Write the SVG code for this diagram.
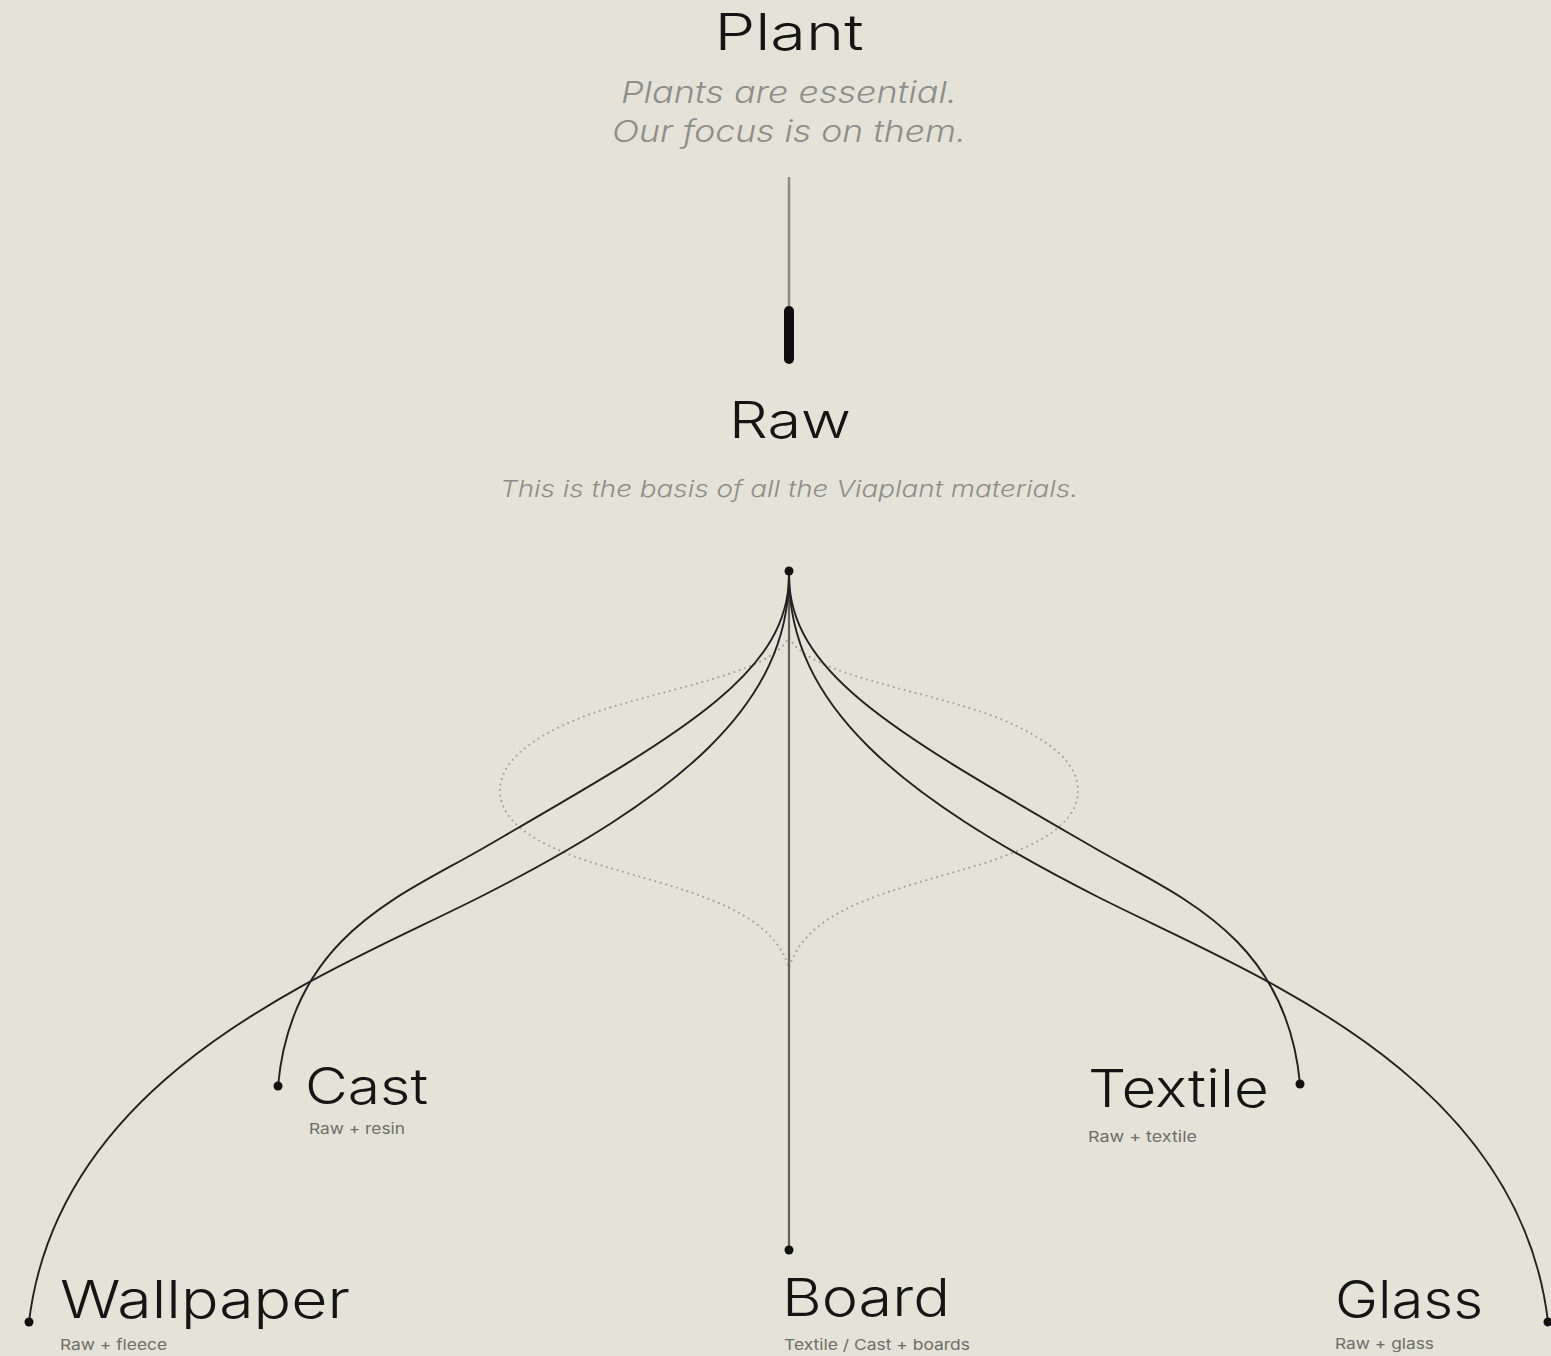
<svg xmlns="http://www.w3.org/2000/svg" width="1551" height="1356" viewBox="0 0 1551 1356">
<style>
.bg{fill:#e5e3d7}
.title{font-family:Inter,"Liberation Sans",sans-serif;font-weight:300;fill:#151515}
.sub{font-family:Inter,"Liberation Sans",sans-serif;font-weight:300;font-style:italic;fill:#8e8e8a}
.small{font-family:Inter,"Liberation Sans",sans-serif;font-weight:400;fill:#6e6e6a;font-size:15px}
.curve{fill:none;stroke:#222;stroke-width:1.9}
.dot{fill:#111}
</style>
<rect class="bg" x="0" y="0" width="1551" height="1356"/>

<g id="outline">
<path d="M789,636 C775,675 650,690 580,718 C525,740 500,765 500,790 C500,818 525,840 590,862 C680,890 770,905 789,968 C808,905 898,890 988,862 C1053,840 1078,818 1078,790 C1078,765 1053,740 998,718 C928,690 803,675 789,636 Z" fill="none" stroke="#a3a29b" stroke-width="2" stroke-dasharray="0.1 5.5" stroke-linecap="round"/>
</g>

<g id="connectors">
<line x1="789" y1="177" x2="789" y2="308" stroke="#8a8a86" stroke-width="2.5"/>
<line x1="789" y1="311" x2="789" y2="359" stroke="#0d0d0d" stroke-width="10" stroke-linecap="round"/>
<line x1="789" y1="575" x2="789" y2="1250" stroke="#5f5f5c" stroke-width="2.2"/>
<path class="curve" d="M789,575 C789,675 680,734 480,850 C400,896 291.5,937 278,1086"/>
<path class="curve" d="M789,575 C789,675 898,734 1098,850 C1178,896 1286.5,937 1300,1084"/>
<path class="curve" d="M789,575 C789,705 680,795.6 480,897 C330,973 59,1072 29,1322"/>
<path class="curve" d="M789,575 C789,705 898,795.6 1098,897 C1248,973 1519,1072 1548,1322"/>
<circle class="dot" cx="789" cy="571" r="4.5"/>
<circle class="dot" cx="278" cy="1086" r="4.5"/>
<circle class="dot" cx="1300" cy="1084" r="4.5"/>
<circle class="dot" cx="29" cy="1322" r="4.5"/>
<circle class="dot" cx="1548" cy="1322" r="4.5"/>
<circle class="dot" cx="789" cy="1250" r="4.5"/>
</g>

<g id="node-plant">
<text class="title" x="789" y="50" font-size="50" text-anchor="middle" textLength="149" lengthAdjust="spacingAndGlyphs">Plant</text>
<text class="sub" x="789" y="103" font-size="30" text-anchor="middle" textLength="336" lengthAdjust="spacingAndGlyphs">Plants are essential.</text>
<text class="sub" x="789" y="142" font-size="30" text-anchor="middle" textLength="354" lengthAdjust="spacingAndGlyphs">Our focus is on them.</text>
</g>

<g id="node-raw">
<text class="title" x="790" y="438" font-size="50" text-anchor="middle" textLength="122" lengthAdjust="spacingAndGlyphs">Raw</text>
<text class="sub" x="789" y="497" font-size="23" text-anchor="middle" textLength="578" lengthAdjust="spacingAndGlyphs">This is the basis of all the Viaplant materials.</text>
</g>

<g id="node-cast">
<text class="title" x="305" y="1104" font-size="50" textLength="123" lengthAdjust="spacingAndGlyphs">Cast</text>
<text class="small" x="309" y="1134" textLength="96" lengthAdjust="spacingAndGlyphs">Raw + resin</text>
</g>

<g id="node-textile">
<text class="title" x="1088" y="1107" font-size="52" textLength="181" lengthAdjust="spacingAndGlyphs">Textile</text>
<text class="small" x="1088" y="1142" textLength="109" lengthAdjust="spacingAndGlyphs">Raw + textile</text>
</g>

<g id="node-wallpaper">
<text class="title" x="60" y="1318" font-size="52" textLength="290" lengthAdjust="spacingAndGlyphs">Wallpaper</text>
<text class="small" x="60" y="1350" textLength="107" lengthAdjust="spacingAndGlyphs">Raw + fleece</text>
</g>

<g id="node-board">
<text class="title" x="782" y="1316" font-size="52" textLength="168" lengthAdjust="spacingAndGlyphs">Board</text>
<text class="small" x="784" y="1350" textLength="186" lengthAdjust="spacingAndGlyphs">Textile / Cast + boards</text>
</g>

<g id="node-glass">
<text class="title" x="1335" y="1318" font-size="52" textLength="148" lengthAdjust="spacingAndGlyphs">Glass</text>
<text class="small" x="1335" y="1349" textLength="99" lengthAdjust="spacingAndGlyphs">Raw + glass</text>
</g>
</svg>
